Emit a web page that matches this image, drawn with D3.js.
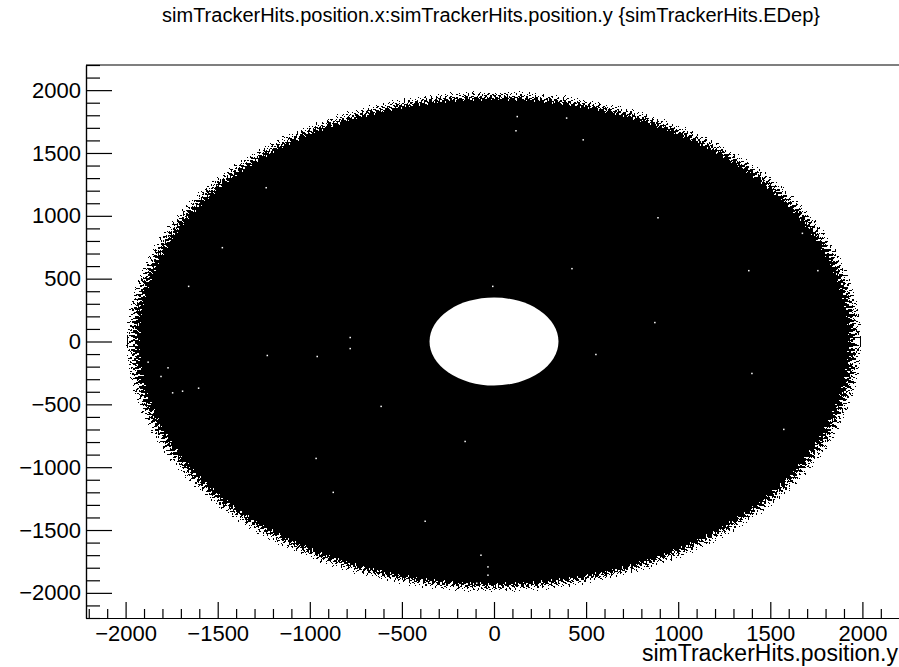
<!DOCTYPE html>
<html lang="en">
<head>
<meta charset="UTF-8" />
<title>simTrackerHits.position.x:simTrackerHits.position.y</title>
<script src="https://cdn.jsdelivr.net/npm/d3@7"></script>
<style>
  html, body { margin: 0; background: #fff; }
  svg { display: block; font-family: "Liberation Sans", Arial, Helvetica, sans-serif; }
  .axis text { font-size: 22px; fill: #000; }
  .axis path, .axis line { stroke: #000; stroke-width: 1.2; }
</style>
</head>
<body>
<svg id="chart" width="899" height="667"></svg>
<script>
  // axis ranges and ticks
  const xRange = [-2215, 2215];
  const yRange = [-2200, 2200];
  const majorTicks = [-2000, -1500, -1000, -500, 0, 500, 1000, 1500, 2000];
  const minorTicks = d3.range(-2200, 2201, 100).filter(v => v % 500 !== 0);

  // the hit distribution: filled annulus (hits everywhere between these radii)
  const innerRadius = 350;
  const outerRadius = 1996;
  // ragged outer fringe: radius of each sparse ring and its white dash pattern
  const fringeRadii = [1925, 1935, 1945, 1955, 1965, 1975, 1985, 1995];
  const fringeDash = ["1 9 1 7", "1 5 2 7", "2 4 1 3", "2 3 3 2 1 3",
                      "3 2 2 1 4 2", "4 1 3 2 5 1", "6 1 5 1 7 1", "9 1 12 1"];

  // isolated empty cells inside the band (x, y)
  const emptyX = [-1658, -1878, -1770, -1808, -1604, -1691, -1745, -7, 553, 126, 119, 394, 484, 1674,
                  -33, -33, -94, -1237, -1475, -781, -781, -960, 890, 1383, 1400, 873, 423, -157,
                  -613, -966, -873, -374, -71, 1758, 1573, 1736, -1231];
  const emptyY = [439, -164, -209, -278, -371, -395, -408, 439, -103, 1790, 1677, 1778, 1605, 861,
                  -1793, -1859, -1923, 1224, 747, 32, -56, -119, 985, 564, -254, 151, 580, -795,
                  -516, -930, -1200, -1430, -1700, 564, -699, -1065, -111];

  const svg = d3.select("#chart");
  const frame = {left: 86, top: 65, right: 902, bottom: 618};

  const x = d3.scaleLinear().domain(xRange).range([frame.left, frame.right]);
  const y = d3.scaleLinear().domain(yRange).range([frame.bottom, frame.top]);

  const plot = svg.append("g");
  const cx = x(0), cy = y(0);
  const rx = r => x(r) - x(0);
  const ry = r => y(0) - y(r);

  // dense band
  plot.append("ellipse")
    .attr("cx", cx).attr("cy", cy)
    .attr("rx", rx(outerRadius)).attr("ry", ry(outerRadius))
    .attr("fill", "#000")
    .attr("shape-rendering", "crispEdges");

  // fringe: white dashes thinning out the edge
  plot.selectAll(".fringe")
    .data(fringeRadii)
    .enter().append("ellipse")
      .attr("class", "fringe")
      .attr("cx", cx).attr("cy", cy)
      .attr("rx", d => rx(d)).attr("ry", d => ry(d))
      .attr("fill", "none")
      .attr("stroke", "#fff")
      .attr("stroke-width", 1.7)
      .attr("stroke-dasharray", (d, i) => fringeDash[i])
      .attr("shape-rendering", "crispEdges");

  // empty centre
  plot.append("ellipse")
    .attr("cx", cx).attr("cy", cy)
    .attr("rx", rx(innerRadius)).attr("ry", ry(innerRadius))
    .attr("fill", "#fff");

  // empty specks
  plot.selectAll(".speck")
    .data(emptyX.map((v, i) => [v, emptyY[i]]))
    .enter().append("rect")
      .attr("class", "speck")
      .attr("x", d => x(d[0]) - 0.7)
      .attr("y", d => y(d[1]) - 0.7)
      .attr("width", 1.5).attr("height", 1.5)
      .attr("fill", "#fff");

  // axes
  const fmt = d3.format("d");

  svg.append("g")
    .attr("class", "axis")
    .attr("transform", `translate(0,${frame.bottom})`)
    .call(d3.axisBottom(x).tickValues(majorTicks).tickFormat(fmt)
      .tickSizeInner(-16).tickSizeOuter(0).tickPadding(7));
  svg.append("g")
    .attr("class", "axis")
    .attr("transform", `translate(0,${frame.bottom})`)
    .call(d3.axisBottom(x).tickValues(minorTicks).tickSizeInner(-9).tickSizeOuter(0).tickFormat(""));

  svg.append("g")
    .attr("class", "axis")
    .attr("transform", `translate(${frame.left},0)`)
    .call(d3.axisLeft(y).tickValues(majorTicks).tickFormat(fmt)
      .tickSizeInner(-26).tickSizeOuter(0).tickPadding(5));
  svg.append("g")
    .attr("class", "axis")
    .attr("transform", `translate(${frame.left},0)`)
    .call(d3.axisLeft(y).tickValues(minorTicks).tickSizeInner(-14).tickSizeOuter(0).tickFormat(""));

  // top frame line
  svg.append("line")
    .attr("x1", frame.left).attr("x2", frame.right)
    .attr("y1", frame.top).attr("y2", frame.top)
    .attr("stroke", "#000").attr("stroke-width", 1.2);

  // titles
  svg.append("text")
    .attr("x", 898).attr("y", 661)
    .attr("text-anchor", "end")
    .style("font-size", "23px")
    .text("simTrackerHits.position.y");

  svg.append("text")
    .attr("x", 491).attr("y", 22)
    .attr("text-anchor", "middle")
    .style("font-size", "20px")
    .text("simTrackerHits.position.x:simTrackerHits.position.y {simTrackerHits.EDep}");
</script>
</body>
</html>
